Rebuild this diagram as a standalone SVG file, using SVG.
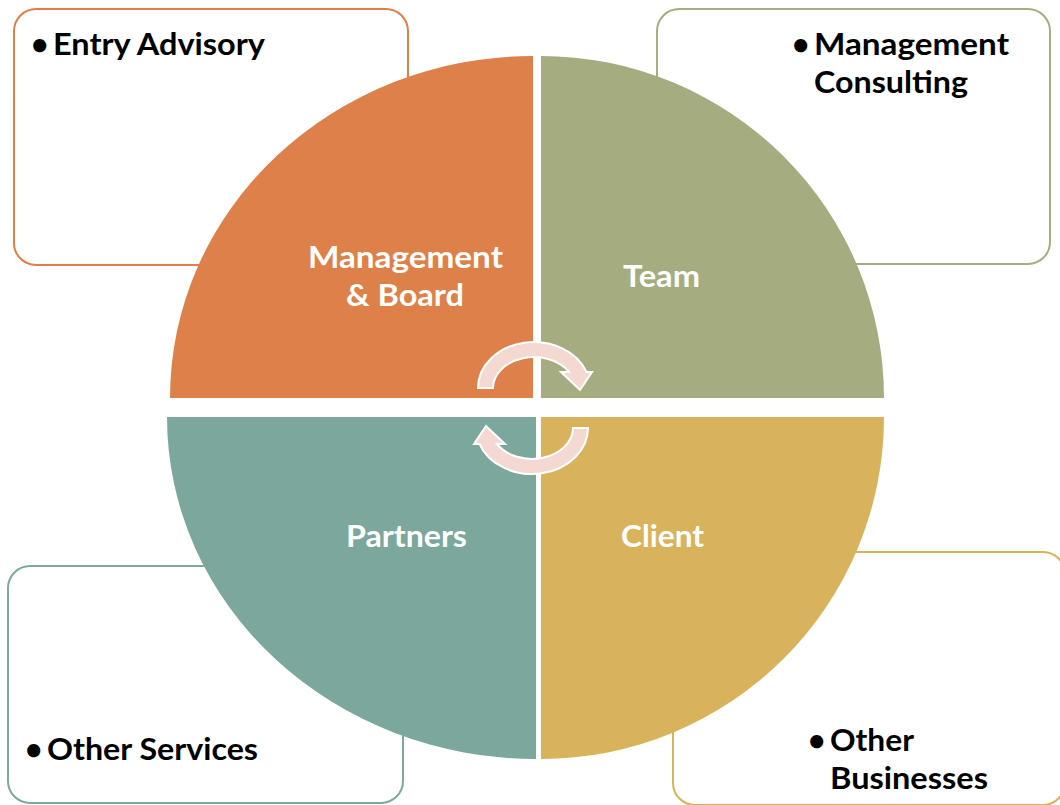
<svg xmlns="http://www.w3.org/2000/svg" width="1060" height="805" viewBox="0 0 1060 805">
  <style>
    .box { fill: #FFFFFF; stroke-width: 2; }
    .lbl { font-family: Lato, "Open Sans", "Liberation Sans", sans-serif; font-weight: bold; font-size: 30px; fill: #000000; }
    .wl { font-family: Lato, "Open Sans", "Liberation Sans", sans-serif; font-weight: bold; font-size: 30px; fill: #FFFFFF; }
    .arr { fill: #F3D9D1; stroke: #FFFFFF; stroke-width: 2; stroke-linejoin: miter; }
  </style>
  <rect width="1060" height="805" fill="#FFFFFF"/>

  <g id="box-entry-advisory">
    <rect class="box" x="14" y="9" width="394" height="256" rx="22" ry="22" stroke="#DF7F48"/>
    <text class="lbl" y="55"><tspan x="31">•</tspan><tspan x="53" textLength="212" lengthAdjust="spacingAndGlyphs">Entry Advisory</tspan></text>
  </g>
  <g id="box-management-consulting">
    <rect class="box" x="657" y="9" width="393" height="255" rx="22" ry="22" stroke="#A6AD82"/>
    <text class="lbl" y="55"><tspan x="792">•</tspan><tspan x="814" textLength="195" lengthAdjust="spacingAndGlyphs">Management</tspan></text>
    <text class="lbl" x="814" y="93" textLength="154" lengthAdjust="spacingAndGlyphs">Consulting</text>
  </g>
  <g id="box-other-services">
    <rect class="box" x="8" y="566" width="395" height="237" rx="22" ry="22" stroke="#7EA89D"/>
    <text class="lbl" y="760"><tspan x="25">•</tspan><tspan x="47" textLength="211" lengthAdjust="spacingAndGlyphs">Other Services</tspan></text>
  </g>
  <g id="box-other-businesses">
    <rect class="box" x="673" y="552" width="392" height="253" rx="22" ry="22" stroke="#D9B25C"/>
    <text class="lbl" y="751"><tspan x="808">•</tspan><tspan x="830" textLength="84" lengthAdjust="spacingAndGlyphs">Other</tspan></text>
    <text class="lbl" x="830" y="789" textLength="158" lengthAdjust="spacingAndGlyphs">Businesses</text>
  </g>

  <g id="q-management-board">
    <path d="M533,398 L533,56 A363,342 0 0 0 170,398 Z" fill="#DE8049"/>
    <text class="wl" x="308" y="268" textLength="195" lengthAdjust="spacingAndGlyphs">Management</text>
    <text class="wl" x="346" y="306" textLength="118" lengthAdjust="spacingAndGlyphs">&amp; Board</text>
  </g>
  <g id="q-team">
    <path d="M541,398 L541,56 A343,342 0 0 1 884,398 Z" fill="#A4AC80"/>
    <text class="wl" x="623" y="287" textLength="77" lengthAdjust="spacingAndGlyphs">Team</text>
  </g>
  <g id="q-partners">
    <path d="M536,417 L167,417 A369,342 0 0 0 536,759 Z" fill="#7CA79C"/>
    <text class="wl" x="346" y="547" textLength="121" lengthAdjust="spacingAndGlyphs">Partners</text>
  </g>
  <g id="q-client">
    <path d="M541,417 L884,417 A343,342 0 0 1 541,759 Z" fill="#D8B35C"/>
    <text class="wl" x="621" y="547" textLength="83" lengthAdjust="spacingAndGlyphs">Client</text>
  </g>

  <g id="connectors">
    <path class="arr" d="M478,388 A56,46 0 0 1 586.5,372 L592,372 L580,390 L561,372 L569,372 A41,31 0 0 0 493,388 Z"/>
    <path class="arr" transform="rotate(180 533 408)" d="M478,388 A56,46 0 0 1 586.5,372 L592,372 L580,390 L561,372 L569,372 A41,31 0 0 0 493,388 Z"/>
  </g>
</svg>
